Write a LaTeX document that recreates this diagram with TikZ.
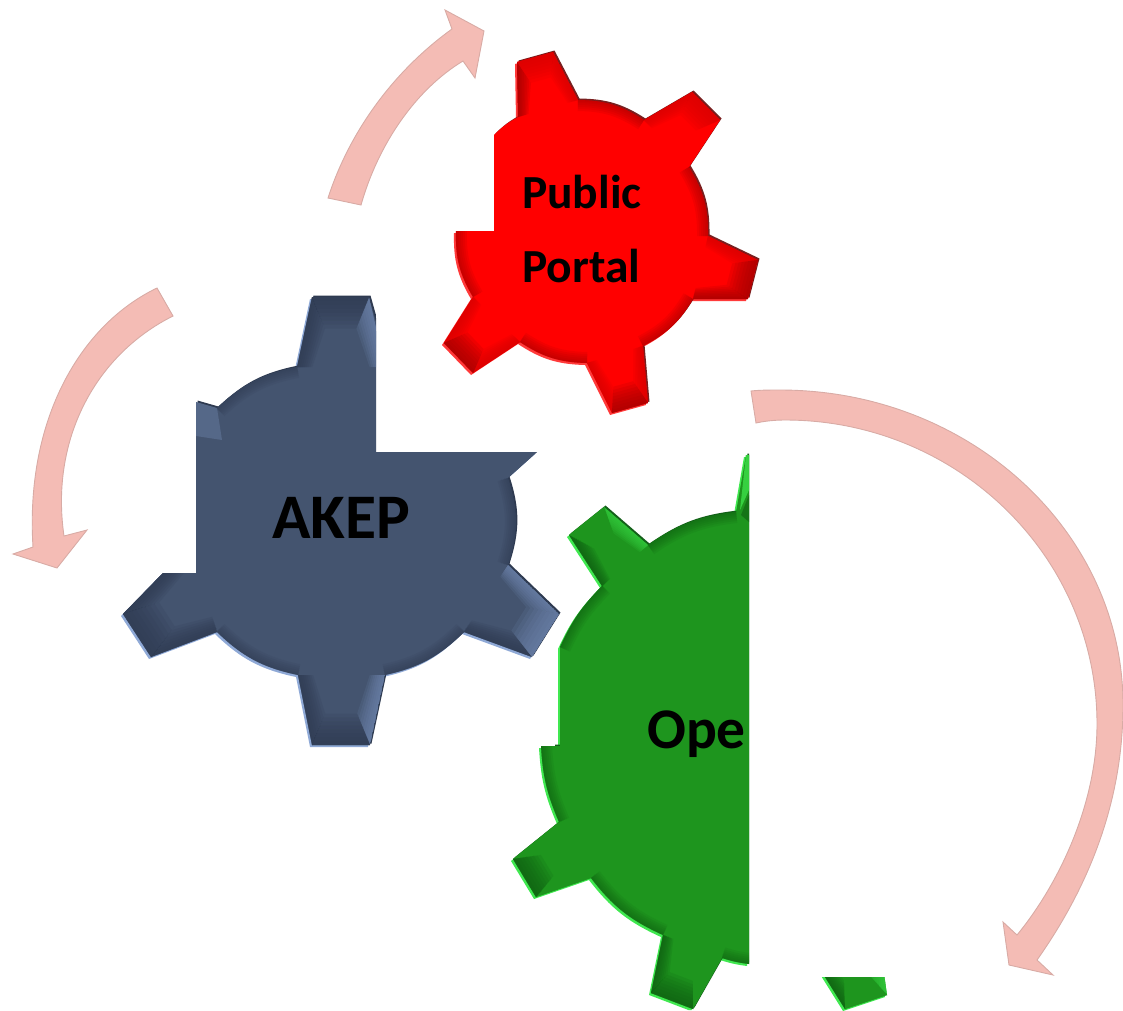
\documentclass[tikz,border=0pt]{standalone}
\usepackage{fontspec}
\setmainfont{Carlito}
\usetikzlibrary{calc}
\definecolor{arrowfill}{HTML}{F4BCB5}
\definecolor{arrowrim}{HTML}{D8ABA5}
\definecolor{bluebody}{HTML}{44546F}
\definecolor{bluedark}{HTML}{2F3B52}
\definecolor{bluelite}{HTML}{6F86AE}
\definecolor{bluerim}{HTML}{8FA9D6}
\definecolor{blueedge}{HTML}{2E3A50}
\definecolor{redbody}{HTML}{FF0000}
\definecolor{reddark}{HTML}{A00000}
\definecolor{redmid}{HTML}{D80000}
\definecolor{redrim}{HTML}{FF3A3A}
\definecolor{redrimdark}{HTML}{7A1F1F}
\definecolor{greenbody}{HTML}{1E951E}
\definecolor{greendark}{HTML}{0F5F12}
\definecolor{greenlite}{HTML}{36D040}
\definecolor{greenrim}{HTML}{40E850}
\definecolor{greenrimdark}{HTML}{14601A}
\tikzset{
  blockarrow/.style={fill=arrowfill,draw=arrowrim,line width=.9pt,line join=miter},
  gearlabel/.style={anchor=base west,inner sep=0pt,text=black},
  bandpath/.style={line cap=butt,line join=round}
}
\newcommand{\facet}[5]{%
  \foreach \t in {.125,.25,.375,.5,.625,.75,.875,1}{%
    \fill[#5,opacity=.16] #1 -- #2 -- ($#2!\t!#3$) -- ($#1!\t!#4$) -- cycle;}}
\newcommand{\tooth}[7]{%
  \coordinate (tm) at ($#1!.5!#4$);
  \coordinate (ti) at ($#2!.45!(tm)$);
  \coordinate (tj) at ($#3!.45!(tm)$);
  \coordinate (ba) at ($#1!.35!(tm)$);
  \coordinate (bb) at ($#4!.35!(tm)$);
  \facet{#1}{#2}{(ti)}{(ba)}{#5}
  \facet{#3}{#4}{(bb)}{(tj)}{#7}
  \facet{#2}{#3}{(tj)}{(ti)}{#6}}
\newcommand{\band}[2]{%
  \foreach \w in {22,18,14,10,6,3}{\draw[#1,line width=\w pt,opacity=.13,bandpath] #2;}}
\def\akeppath{(196,402) -- (217,408) to[bend left=16] (297,367) -- (312,297) -- (369,297) -- (376,322) -- (376,452) -- (537,452) -- (508,478) to[bend left=18] (508,565) -- (559,614) -- (532,657) -- (464,632) to[bend left=16] (385,675) -- (370,745) -- (312,745) -- (298,675) to[bend left=16] (217,632) -- (151,657) -- (123,614) -- (163,573) -- (196,573) -- cycle}
\def\akeparcs{(217,408) to[bend left=16] (297,367) (508,478) to[bend left=18] (508,565) (464,632) to[bend left=16] (385,675) (298,675) to[bend left=16] (217,632)}
\def\redpath{(494,135) to[bend left=8] (518,117) -- (517,62) -- (553,52) -- (578,100) to[bend left=16] (644,120) -- (692,92) -- (720,120) -- (689,167) to[bend left=16] (708,236) -- (758,260) -- (748,299) -- (693,299) to[bend left=16] (643,346) -- (648,403) -- (612,413) -- (587,363) to[bend left=16] (520,342) -- (473,373) -- (444,343) -- (473,297) to[bend left=16] (456,231) -- (494,231) -- cycle}
\def\redarcs{(578,100) to[bend left=16] (644,120) (689,167) to[bend left=16] (708,236) (693,299) to[bend left=16] (643,346) (587,363) to[bend left=16] (520,342) (473,297) to[bend left=16] (456,231)}
\def\greenpath{(749,455) -- (746,455) -- (736,512) to[bend right=14] (648,545) -- (604,507) -- (569,535) -- (602,586) to[bend right=10] (560,647) -- (560,746) -- (541,746) to[bend right=10] (559,822) -- (513,859) -- (536,897) -- (591,878) to[bend right=14] (663,935) -- (651,993) -- (693,1009) -- (722,958) to[bend right=5] (749,964) -- cycle}
\def\greenarcs{(736,512) to[bend right=14] (648,545) (602,586) to[bend right=10] (560,647) (541,746) to[bend right=10] (559,822) (591,878) to[bend right=14] (663,935) (722,958) to[bend right=5] (749,964)}
\begin{document}
\begin{tikzpicture}[x=1pt,y=-1pt]
\useasboundingbox (0,0) rectangle (1123,1010);

% ---------- red gear
\begin{scope}
  \clip (494,30) -- (770,30) -- (770,425) -- (435,425) -- (435,231) -- (494,231) -- cycle;
  \fill[redrim,shift={(-2,2)}] \redpath;
  \fill[redrimdark,shift={(1.5,-1.5)}] \redpath;
  \fill[redbody] \redpath;
  \begin{scope}
    \clip \redpath;
    \band{reddark}{\redarcs}
    \tooth{(518,117)}{(517,62)}{(553,52)}{(578,100)}{reddark}{redmid}{redmid}
    \tooth{(644,120)}{(692,92)}{(720,120)}{(689,167)}{redmid}{redmid}{redbody}
    \tooth{(708,236)}{(758,260)}{(748,299)}{(693,299)}{redmid}{reddark}{reddark}
    \tooth{(643,346)}{(648,403)}{(612,413)}{(587,363)}{redmid}{reddark}{redmid}
    \tooth{(520,342)}{(473,373)}{(444,343)}{(473,297)}{redmid}{reddark}{redmid}
  \end{scope}
\end{scope}

% ---------- blue gear
\begin{scope}
  \clip (196,285) -- (376,285) -- (376,452) -- (565,452) -- (565,755) -- (110,755) -- (110,573) -- (196,573) -- cycle;
  \fill[bluerim,shift={(-2,2)}] \akeppath;
  \fill[blueedge,shift={(1.5,-1.5)}] \akeppath;
  \fill[bluebody] \akeppath;
  \begin{scope}
    \clip \akeppath;
    \band{bluedark}{\akeparcs}
    \fill[bluelite,opacity=.4] (196,402) -- (217,408) -- (222,440) -- (196,436) -- cycle;
    \tooth{(297,367)}{(312,297)}{(369,297)}{(385,367)}{bluedark}{bluedark}{bluelite}
    \tooth{(508,565)}{(559,614)}{(532,657)}{(464,632)}{bluelite}{bluelite}{bluedark}
    \tooth{(385,675)}{(370,745)}{(312,745)}{(298,675)}{bluelite}{bluedark}{bluedark}
    \tooth{(217,632)}{(151,657)}{(123,614)}{(190,545)}{bluedark}{bluedark}{bluedark}
  \end{scope}
\end{scope}

% ---------- green gear
\begin{scope}
  \clip (555,440) -- (749,440) -- (749,1010) -- (500,1010) -- (500,746) -- (555,746) -- cycle;
  \fill[greenrim,shift={(-2,2)}] \greenpath;
  \fill[greenrimdark,shift={(1.5,-1.5)}] \greenpath;
  \fill[greenbody] \greenpath;
  \begin{scope}
    \clip \greenpath;
    \band{greendark}{\greenarcs}
    \fill[greenlite] (746,455) -- (749,455) -- (749,490) -- (740,510) -- cycle;
    \fill[greendark,opacity=.6] (749,495) -- (749,522) -- (741,515) -- cycle;
    \tooth{(648,545)}{(604,507)}{(569,535)}{(602,586)}{greenlite}{greenbody}{greendark}
    \tooth{(591,878)}{(536,897)}{(513,859)}{(559,822)}{greenbody}{greendark}{greenbody}
    \tooth{(722,958)}{(693,1009)}{(651,993)}{(663,935)}{greenbody}{greendark}{greendark}
  \end{scope}
\end{scope}
\begin{scope}
  \clip (800,977) rectangle (900,1010);
  \fill[greenrim,shift={(-2,2)}] (805,945) -- (845,1009) -- (887,995) -- (880,945) -- cycle;
  \fill[greenbody] (805,945) -- (845,1009) -- (887,995) -- (880,945) -- cycle;
  \tooth{(880,945)}{(887,995)}{(845,1009)}{(805,945)}{greenlite}{greenbody}{greendark}
\end{scope}

% ---------- labels
\node[gearlabel,font=\fontsize{47.5}{47.5}\selectfont\bfseries] (public) at (522,208) {Public};
\node[gearlabel,font=\fontsize{47.5}{47.5}\selectfont\bfseries] (portal) at (522,282) {Portal};
\node[gearlabel,font=\fontsize{63.5}{63.5}\selectfont\bfseries] (akep) at (272,538) {AKEP};
\node[gearlabel,font=\fontsize{57.5}{57.5}\selectfont\bfseries] (ope) at (647,748) {Ope};

% ---------- arrows
\filldraw[blockarrow] (328,198) .. controls (350,130) and (395,70) .. (452,29)
  -- (445,10) -- (484,31) -- (475,78) -- (463,61)
  .. controls (415,90) and (378,145) .. (361,205) -- cycle;
\filldraw[blockarrow] (157,288) .. controls (80,325) and (25,420) .. (33,547)
  -- (13,554) -- (57,568) -- (87,530) -- (64,536)
  .. controls (50,440) and (95,355) .. (173,316) -- cycle;
\filldraw[blockarrow] (751,391) .. controls (760,390) and (770,390) .. (780,390)
  .. controls (969,390) and (1123,531) .. (1123,705)
  .. controls (1123,800) and (1090,885) .. (1037,960)
  -- (1053,975) -- (1009,965) -- (1003,922) -- (1017,935)
  .. controls (1062,880) and (1097,800) .. (1097,724)
  .. controls (1097,556) and (957,420) .. (785,420)
  .. controls (775,420) and (765,421) .. (756,423) -- cycle;
\end{tikzpicture}
\end{document}
